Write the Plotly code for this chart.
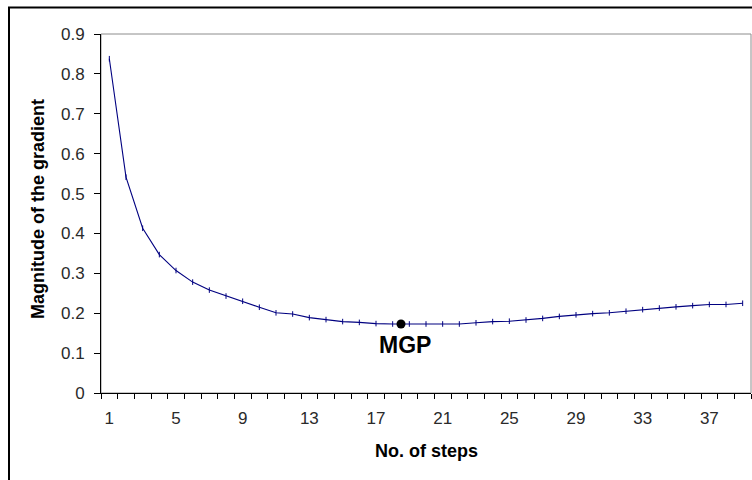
import plotly.graph_objects as go

# Gradient magnitude per step
steps = list(range(1, 40))
gradient = [0.838, 0.541, 0.413, 0.347, 0.307, 0.278, 0.258, 0.243, 0.230, 0.215,
            0.201, 0.198, 0.189, 0.184, 0.179, 0.177, 0.174, 0.173, 0.173, 0.173,
            0.173, 0.173, 0.176, 0.179, 0.180, 0.183, 0.187, 0.192, 0.196, 0.199,
            0.201, 0.205, 0.209, 0.213, 0.216, 0.219, 0.222, 0.222, 0.225]
x_labels = [1, 5, 9, 13, 17, 21, 25, 29, 33, 37]
y_ticks = [0, 0.1, 0.2, 0.3, 0.4, 0.5, 0.6, 0.7, 0.8, 0.9]

# Minimum gradient point
mgp_step = 18.5
mgp_value = 0.173
mgp_label = "MGP"

W, H = 752, 480
L, R, T, B = 101, 1, 34, 87
PW, PH = W - L - R, H - T - B

fig = go.Figure()
fig.add_trace(go.Scatter(
    x=steps, y=gradient, mode="lines+markers",
    line=dict(color="#000080", width=1.1),
    marker=dict(symbol="line-ns", size=4, line=dict(color="#000080", width=1)),
    hoverinfo="x+y", showlegend=False,
))
fig.add_trace(go.Scatter(
    x=[mgp_step], y=[mgp_value], mode="markers",
    marker=dict(color="black", size=9),
    showlegend=False,
))

fig.add_annotation(x=mgp_step, y=mgp_value, text="<b>" + mgp_label + "</b>",
                   showarrow=False, yshift=-21, xshift=4,
                   xanchor="center", yanchor="middle",
                   font=dict(family="Liberation Sans, Arial", size=23, color="black"))

tick_font = dict(family="Liberation Sans, Arial", size=17, color="#2a2a2a")
title_font = dict(family="Liberation Sans, Arial", size=18, color="black")

fig.update_layout(
    width=W, height=H,
    margin=dict(l=L, r=R, t=T, b=B),
    paper_bgcolor="white", plot_bgcolor="white",
    xaxis=dict(
        range=[0.5, len(steps) + 0.5], tickmode="array", tickvals=x_labels,
        ticktext=[str(v) for v in x_labels], ticks="",
        showgrid=False, zeroline=False,
        showline=True, linecolor="black", linewidth=1,
        tickfont=tick_font, ticklabelstandoff=10,
        minor=dict(tickmode="array",
                   tickvals=[s - 0.5 for s in steps] + [len(steps) + 0.5],
                   ticks="outside", ticklen=5, tickcolor="black", tickwidth=1,
                   showgrid=False),
    ),
    yaxis=dict(
        range=[0, 0.9], tickmode="array", tickvals=y_ticks,
        ticktext=["0" if v == 0 else f"{v:g}" for v in y_ticks],
        ticks="outside", ticklen=6, tickcolor="black",
        showgrid=False, zeroline=False,
        showline=True, linecolor="black", linewidth=1,
        tickfont=tick_font, ticklabelstandoff=6,
    ),
    shapes=[
        # outer chart border
        dict(type="rect", xref="paper", yref="paper",
             x0=(9 - L) / PW, x1=1.05, y0=-0.3, y1=(H - B - 7.5) / PH,
             line=dict(color="black", width=2), layer="below"),
        # plot area frame
        dict(type="rect", xref="paper", yref="paper", x0=0, x1=1, y0=0, y1=1,
             line=dict(color="#8c8c8c", width=1), layer="below"),
    ],
)

fig.add_annotation(xref="paper", yref="paper", x=(426 - L) / PW, y=(H - B - 451) / PH,
                   xanchor="center", yanchor="middle",
                   text="<b>No. of steps</b>", showarrow=False, font=title_font)
fig.add_annotation(xref="paper", yref="paper", x=(38 - L) / PW, y=(H - B - 209) / PH,
                   xanchor="center", yanchor="middle",
                   text="<b>Magnitude of the gradient</b>", showarrow=False, textangle=-90,
                   font=title_font)

fig.write_html("out.html")
